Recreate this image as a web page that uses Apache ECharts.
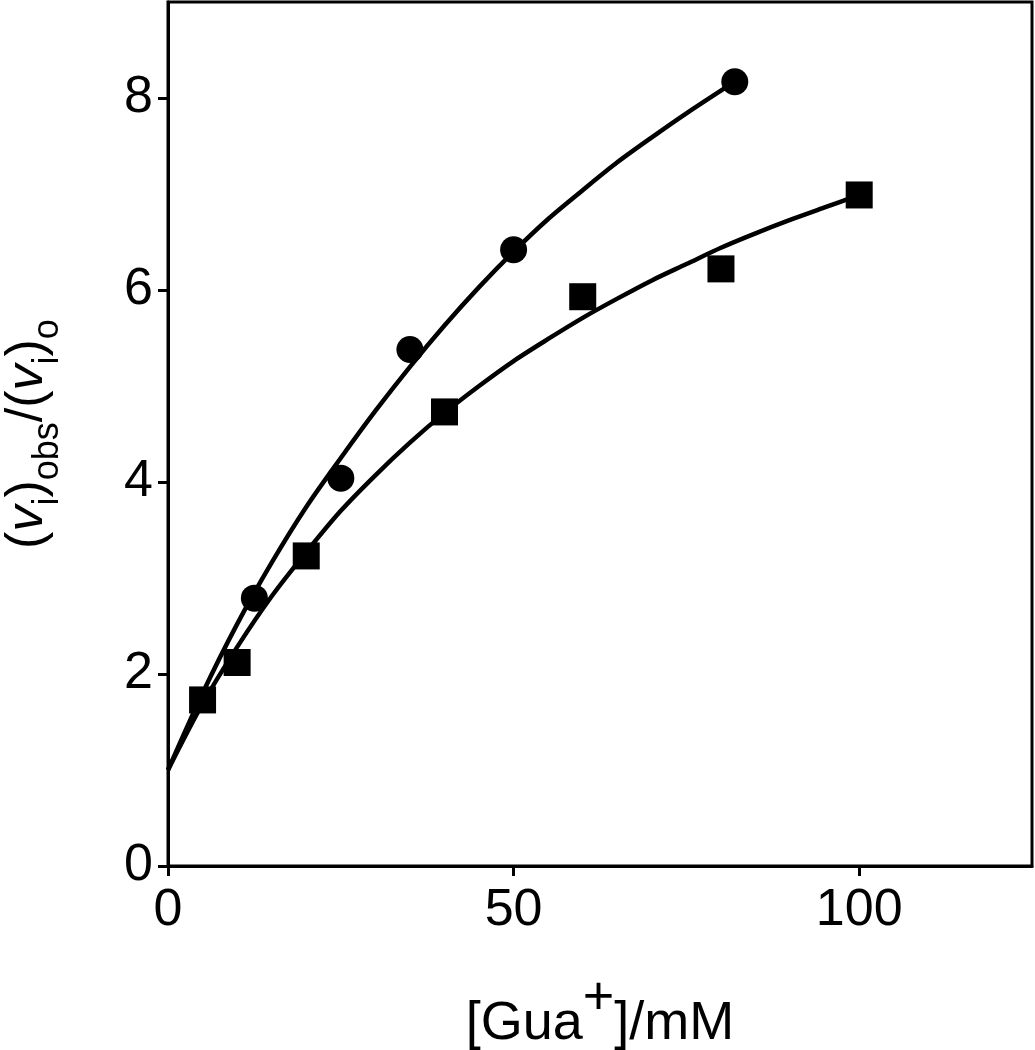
<!DOCTYPE html>
<html>
<head>
<meta charset="utf-8">
<script src="https://cdn.jsdelivr.net/npm/echarts@6/dist/echarts.min.js"></script>
<style>
  html, body { margin: 0; padding: 0; background: #fff; }
  #chart { width: 1035px; height: 1050px; }
</style>
</head>
<body>
<div id="chart"></div>
<script>
// ---- data ----
const xTicks = [0, 50, 100];
const yTicks = [0, 2, 4, 6, 8];

// measured points (circles)
const circleX = [12.5, 25, 35, 50, 82];
const circleY = [2.79, 4.04, 5.38, 6.42, 8.17];

// measured points (squares)
const squareX = [5, 10, 20, 40, 60, 80, 100];
const squareY = [1.73, 2.12, 3.23, 4.73, 5.93, 6.22, 6.99];

// fitted curve through circles
const circleFitX = [0, 5, 10, 15, 20, 25, 30, 35, 40, 45, 50, 55, 60, 65, 70, 75, 82];
const circleFitY = [1.0, 1.80, 2.52, 3.16, 3.74, 4.25, 4.74, 5.20, 5.63, 6.03, 6.40, 6.74, 7.04, 7.33, 7.59, 7.84, 8.17];

// fitted curve through squares
const squareFitX = [0, 5, 10, 15, 20, 25, 30, 35, 40, 45, 50, 55, 60, 65, 70, 75, 80, 85, 90, 95, 100];
const squareFitY = [1.0, 1.69, 2.28, 2.81, 3.27, 3.70, 4.07, 4.41, 4.72, 5.00, 5.26, 5.49, 5.71, 5.91, 6.10, 6.27, 6.44, 6.59, 6.73, 6.86, 6.99];

const pairs = (xs, ys) => xs.map((x, i) => [x, ys[i]]);

const FONT = "'Liberation Sans', Arial, Helvetica, sans-serif";

const chart = echarts.init(document.getElementById('chart'), null, { renderer: 'canvas' });
chart.setOption({
  animation: false,
  backgroundColor: '#ffffff',
  grid: {
    left: 168, right: 3, top: 2, bottom: 184,
    containLabel: false, outerBoundsMode: 'none',
    show: true, borderColor: '#000', borderWidth: 3, backgroundColor: 'transparent'
  },
  xAxis: {
    type: 'value', min: 0, max: 125, interval: 50,
    axisLine: { show: true, onZero: false, lineStyle: { color: '#000', width: 3 } },
    axisTick: { show: true, inside: false, length: 10, lineStyle: { color: '#000', width: 3 }, customValues: xTicks },
    axisLabel: { show: true, color: '#000', fontSize: 52, fontFamily: FONT, margin: 19, customValues: xTicks },
    splitLine: { show: false },
    name: '{n|[Gua}{sup|+}{n|]/mM}',
    nameLocation: 'middle',
    nameGap: 106,
    nameTextStyle: {
      fontFamily: FONT, color: '#000',
      rich: {
        n: { fontSize: 54, fontFamily: FONT, color: '#000', lineHeight: 79, verticalAlign: 'bottom' },
        sup: { fontSize: 54, fontFamily: FONT, color: '#000', lineHeight: 79, verticalAlign: 'top' }
      }
    }
  },
  yAxis: {
    type: 'value', min: 0, max: 9, interval: 2,
    axisLine: { show: true, onZero: false, lineStyle: { color: '#000', width: 3 } },
    axisTick: { show: true, inside: false, length: 10, lineStyle: { color: '#000', width: 3 }, customValues: yTicks },
    axisLabel: { show: true, color: '#000', fontSize: 52, fontFamily: FONT, margin: 15, customValues: yTicks },
    splitLine: { show: false },
    name: '{m|(}{v|v}{s|i}{m|)}{s|obs}{m|/(}{v|v}{s|i}{m|)}{s|o}',
    nameLocation: 'middle',
    nameRotate: 90,
    nameGap: 102,
    nameTextStyle: {
      fontFamily: FONT, color: '#000',
      rich: {
        m: { fontSize: 52, fontFamily: FONT, color: '#000', lineHeight: 64, verticalAlign: 'top' },
        v: { fontSize: 52, fontFamily: FONT, fontStyle: 'italic', color: '#000', lineHeight: 64, verticalAlign: 'top' },
        s: { fontSize: 36, fontFamily: FONT, color: '#000', lineHeight: 64, verticalAlign: 'bottom' }
      }
    }
  },
  series: [
    {
      type: 'line', data: pairs(circleFitX, circleFitY), showSymbol: false, symbol: 'none',
      smooth: 0.3, lineStyle: { color: '#000', width: 4.5 }, z: 2
    },
    {
      type: 'line', data: pairs(squareFitX, squareFitY), showSymbol: false, symbol: 'none',
      smooth: 0.3, lineStyle: { color: '#000', width: 4.5 }, z: 2
    },
    {
      type: 'scatter', data: pairs(circleX, circleY), symbol: 'circle', symbolSize: 27,
      itemStyle: { color: '#000', opacity: 1 }, z: 3
    },
    {
      type: 'scatter', data: pairs(squareX, squareY), symbol: 'rect', symbolSize: 27,
      itemStyle: { color: '#000', opacity: 1 }, z: 3
    }
  ]
});
</script>
</body>
</html>
